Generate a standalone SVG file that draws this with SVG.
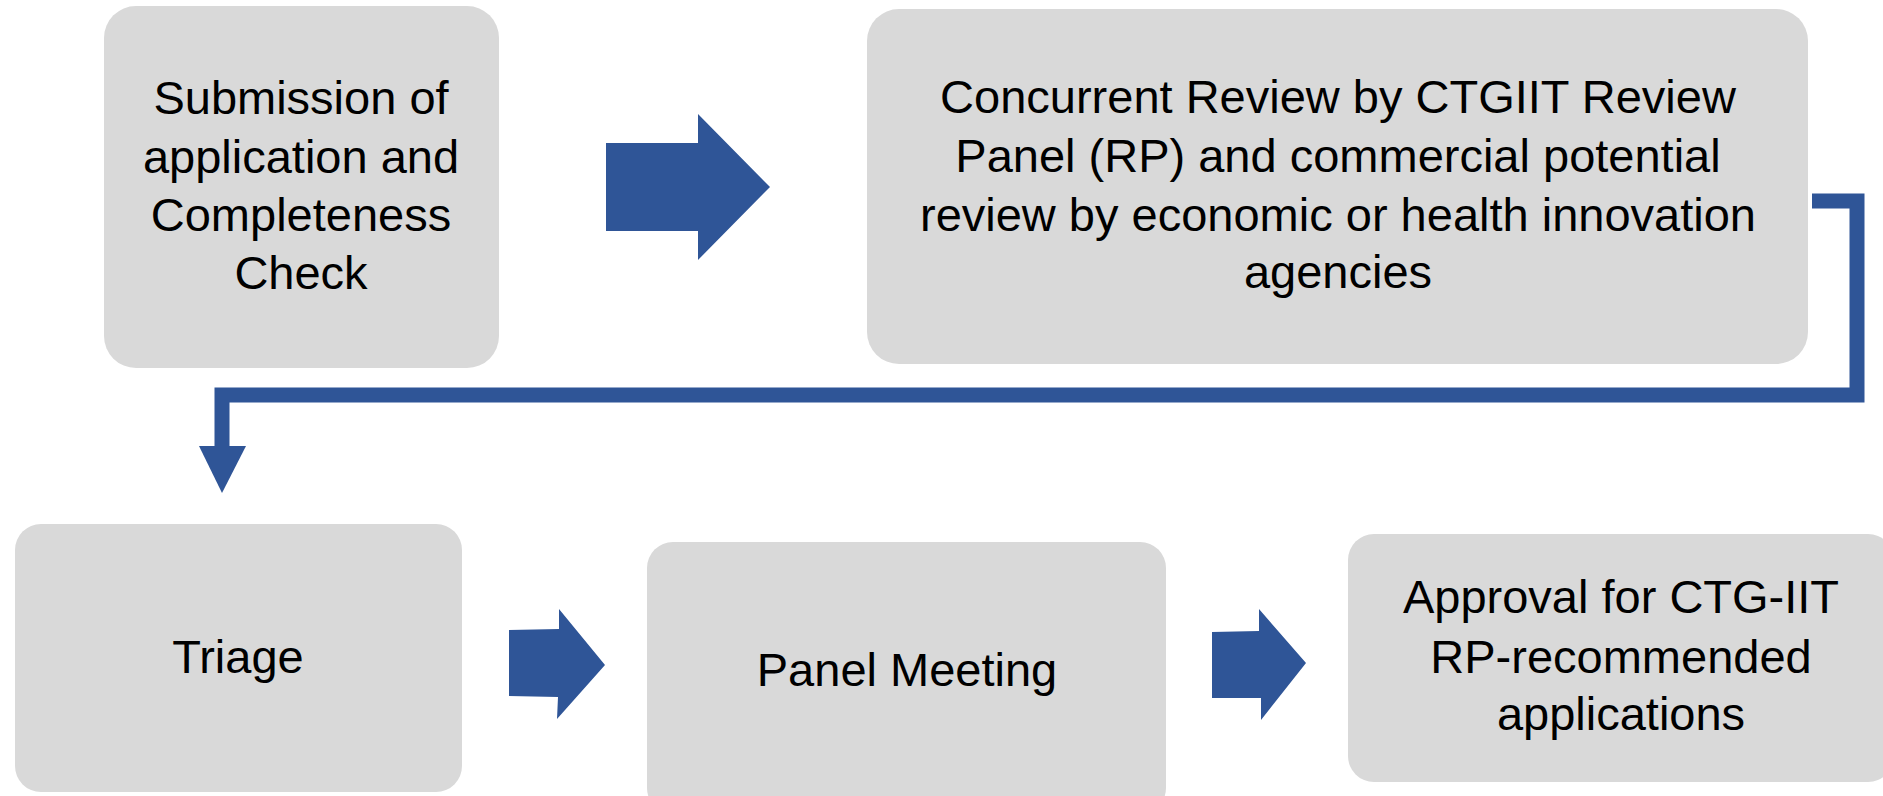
<svg xmlns="http://www.w3.org/2000/svg" width="1883" height="796" viewBox="0 0 1883 796">
<style>
.box{fill:#D9D9D9;}
.lbl{font-family:"Liberation Sans",Arial,sans-serif;font-size:47px;fill:#000;text-anchor:middle;}
.arr{fill:#2F5597;}
.conn{fill:none;stroke:#2F5597;stroke-width:15;stroke-linejoin:miter;}
</style>
<rect width="1883" height="796" fill="#FFFFFF"/>
<g id="connectors">
<polygon class="arr" points="606,143 698,143 698,114 770,187 698,260 698,231 606,231"/>
<path class="conn" d="M1812,201 H1857 V395 H222 V447"/>
<polygon class="arr" points="199,446 246,446 222,493"/>
<polygon class="arr" points="509,630 559,629 559,609 605,665 557,719 558,697 509,696"/>
<polygon class="arr" points="1212,632 1259,631 1259,609 1306,663 1261,720 1261,698 1212,698"/>
</g>
<g id="node-submission">
<rect class="box" x="104" y="6" width="395" height="362" rx="32"/>
<text class="lbl" x="301" y="114">Submission of</text>
<text class="lbl" x="301" y="173">application and</text>
<text class="lbl" x="301" y="231">Completeness</text>
<text class="lbl" x="301" y="289">Check</text>
</g>
<g id="node-concurrent">
<rect class="box" x="867" y="9" width="941" height="355" rx="32"/>
<text class="lbl" x="1338" y="113">Concurrent Review by CTGIIT Review</text>
<text class="lbl" x="1338" y="172">Panel (RP) and commercial potential</text>
<text class="lbl" x="1338" y="231">review by economic or health innovation</text>
<text class="lbl" x="1338" y="288">agencies</text>
</g>
<g id="node-triage">
<rect class="box" x="15" y="524" width="447" height="268" rx="26"/>
<text class="lbl" x="238" y="673">Triage</text>
</g>
<g id="node-panel">
<rect class="box" x="647" y="542" width="519" height="272" rx="26"/>
<text class="lbl" x="907" y="686">Panel Meeting</text>
</g>
<g id="node-approval">
<rect class="box" x="1348" y="534" width="546" height="248" rx="26"/>
<text class="lbl" x="1621" y="613">Approval for CTG-IIT</text>
<text class="lbl" x="1621" y="673">RP-recommended</text>
<text class="lbl" x="1621" y="730">applications</text>
</g>
</svg>
